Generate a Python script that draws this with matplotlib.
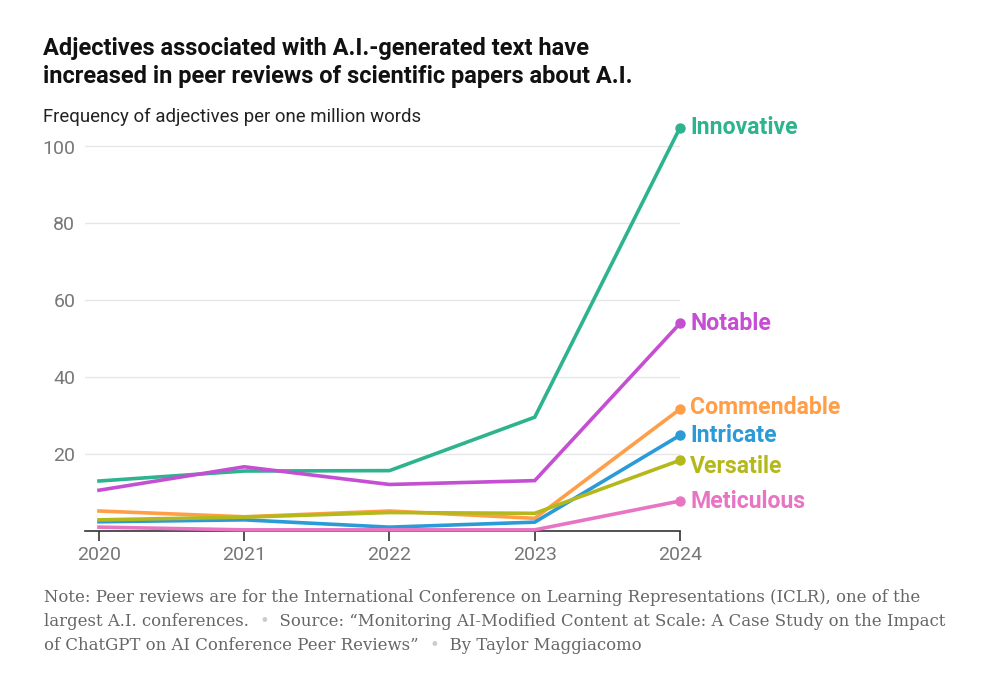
import matplotlib
matplotlib.use("Agg")
import matplotlib.pyplot as plt
from matplotlib import font_manager

years = [2020, 2021, 2022, 2023, 2024]
series_names = ["Innovative", "Notable", "Commendable", "Intricate", "Versatile", "Meticulous"]
innovative = [13.0, 15.6, 15.7, 29.6, 104.9]
notable = [10.6, 16.7, 12.1, 13.1, 54.0]
commendable = [5.2, 3.7, 5.2, 3.3, 31.7]
intricate = [2.4, 2.9, 1.0, 2.3, 24.9]
versatile = [2.9, 3.6, 4.8, 4.6, 18.4]
meticulous = [1.0, 0.3, 0.3, 0.3, 7.8]
yticks = [20, 40, 60, 80, 100]

values = [innovative, notable, commendable, intricate, versatile, meticulous]
colors = ["#2db38e", "#c54fd3", "#ff9e47", "#2b9bd8", "#b5b81b", "#e874c4"]
label_dy = [0, 0, 2, 0, -6, 0]  # pixel nudges for end labels

def pick(fams):
    avail = {f.name for f in font_manager.fontManager.ttflist}
    return [f for f in fams if f in avail] + ["DejaVu Sans"]

sans_cond = pick(["Liberation Sans Narrow", "Roboto", "Liberation Sans"])
sans = pick(["Roboto", "Liberation Sans"])
serif = ["DejaVu Serif"]

fig = plt.figure(figsize=(10, 6.8), dpi=100)
W, H = 1000, 680
ymax = 105
ax_left, ax_right = 85 / W, 680 / W
y0_px, y100_px = 531, 146.5
top_px = y0_px - (y0_px - y100_px) * ymax / 100
ax = fig.add_axes([ax_left, 1 - y0_px / H, ax_right - ax_left, (y0_px - top_px) / H])

for name, vals, c, dy in zip(series_names, values, colors, label_dy):
    ax.plot(years, vals, color=c, lw=2.6, solid_joinstyle="miter", clip_on=False, zorder=3)
    ax.plot([years[-1]], [vals[-1]], "o", color=c, ms=6.5, clip_on=False, zorder=4)
    ax.annotate(name, (years[-1], vals[-1]), xytext=(10, dy), textcoords="offset pixels",
                color=c, fontsize=16.6, fontweight="semibold", family=sans,
                va="center", ha="left", annotation_clip=False)

ax.set_xlim(2020 - 14 / 145.5, 2024)
ax.set_ylim(0, ymax)
ax.set_yticks(yticks)
ax.set_xticks(years)
ax.set_xticklabels([str(y) for y in years])
ax.grid(axis="y", color="#e6e6e6", lw=1)
ax.set_axisbelow(True)
for s in ["top", "right", "left"]:
    ax.spines[s].set_visible(False)
ax.spines["bottom"].set_color("#333333")
ax.spines["bottom"].set_linewidth(1.2)
ax.tick_params(axis="y", length=0, pad=7, labelsize=14, labelcolor="#777777")
ax.tick_params(axis="x", length=7, width=1.2, color="#333333", pad=4, labelsize=14, labelcolor="#777777")
for lab in ax.get_xticklabels() + ax.get_yticklabels():
    lab.set_family(sans)

fig.text(43 / W, 1 - 48 / H, "Adjectives associated with A.I.-generated text have",
         fontsize=17, fontweight="bold", family=sans_cond, color="#111111", va="center")
fig.text(43 / W, 1 - 77 / H, "increased in peer reviews of scientific papers about A.I.",
         fontsize=17, fontweight="bold", family=sans_cond, color="#111111", va="center")
fig.text(43 / W, 1 - 117 / H, "Frequency of adjectives per one million words",
         fontsize=13.4, family=sans, color="#222222", va="center")

# Footnote with light dots
note_color = "#666666"
dot_color = "#cccccc"
fs = 11.85
lines = [
    [("Note: Peer reviews are for the International Conference on Learning Representations (ICLR), one of the", note_color)],
    [("largest A.I. conferences.  ", note_color), ("\u2022", dot_color),
     ("  Source: \u201cMonitoring AI-Modified Content at Scale: A Case Study on the Impact", note_color)],
    [("of ChatGPT on AI Conference Peer Reviews\u201d  ", note_color), ("\u2022", dot_color),
     ("  By Taylor Maggiacomo", note_color)],
]
ys = [597, 621, 646]
fig.canvas.draw()
r = fig.canvas.get_renderer()
for segs, ypx in zip(lines, ys):
    x = 44
    for txt, col in segs:
        t = fig.text(x / W, 1 - ypx / H, txt, fontsize=fs, family=serif, color=col, va="center")
        bb = t.get_window_extent(renderer=r)
        x += bb.width

fig.savefig("out.png", dpi=100)
